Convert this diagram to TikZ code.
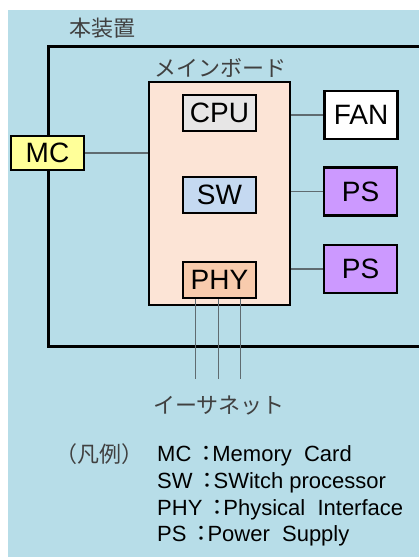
\documentclass[tikz,border=0pt]{standalone}
\usepackage{fontspec}
\setmainfont{Liberation Sans}
\newfontfamily\jpfont{Noto Sans CJK JP}
\usetikzlibrary{positioning}
\definecolor{cbg}{HTML}{B7DDE8}
\definecolor{cboard}{HTML}{FCE4D6}
\definecolor{ccpu}{HTML}{E7E6E6}
\definecolor{csw}{HTML}{C5D9F1}
\definecolor{cphy}{HTML}{F8CBAD}
\definecolor{cmc}{HTML}{FFFF99}
\definecolor{cps}{HTML}{CC99FF}
\definecolor{cjp}{HTML}{404040}
\definecolor{clink}{HTML}{5F6B70}
\tikzset{
  devbox/.style={rectangle, draw=black, line width=2.6pt, inner sep=0pt},
  board/.style={rectangle, draw=black, line width=2.6pt, fill=cboard, inner sep=0pt,
    minimum width=141pt, minimum height=223pt},
  chip/.style={rectangle, draw=black, line width=2.2pt, inner sep=0pt,
    minimum width=73pt, minimum height=36pt, font=\fontsize{28}{30}\selectfont},
  unit/.style={chip, line width=2.6pt, minimum height=48pt},
  jp/.style={inner sep=0pt, text=cjp, font=\jpfont\fontsize{22}{24}\selectfont},
  legend/.style={inner sep=0pt, font=\fontsize{22}{24}\selectfont},
  link/.style={draw=clink, line width=1.6pt},
}

\begin{document}
\begin{tikzpicture}[x=1pt, y=-1pt, node distance=13pt]
  \useasboundingbox (0,0) rectangle (419,557);
  \clip (0,0) rectangle (419,557);
  \fill[cbg] (8,10) rectangle (419,557);

  \node[devbox, anchor=north west, minimum width=400pt, minimum height=300pt] (dev) at (47,45) {};
  \node[jp, anchor=base west] (devlbl) at (69,36.5) {本装置};

  \node[board] (board) at (219.5,193.5) {};
  \node[jp, anchor=base] (boardlbl) at (220,76) {メインボード};
  \node[chip, fill=ccpu, below=13pt of board.north] (cpu) {CPU};
  \node[chip, fill=csw, below=44pt of cpu] (sw) {SW};
  \node[chip, fill=cphy, below=47pt of sw] (phy) {PHY};

  \node[unit, fill=white] (fan) at (361,115) {FAN};
  \node[unit, fill=cps] (ps1) at (360.5,191.5) {PS};
  \node[unit, fill=cps] (ps2) at (360.5,269) {PS};
  \node[unit, fill=cmc, minimum height=34pt] (mc) at (47.5,153) {MC};

  \draw[link] (mc.east) -- (mc.east -| board.west);
  \draw[link] (board.east |- fan) -- (fan);
  \draw[link] (board.east |- ps1) -- (ps1);
  \draw[link] (board.east |- ps2) -- (ps2);

  % ethernet ports
  \coordinate (ethend) at (219,379);
  \foreach \dx in {-24,-1,21}
    \draw[link] ([xshift=\dx pt]phy.south) -- ([xshift=\dx pt]phy.south |- ethend);
  \node[jp, anchor=base] (ethlbl) at (219,413) {イーサネット};

  % legend
  \node[jp, anchor=base west] (leghead) at (55,462) {（凡例）};
  \foreach \abbr/\desc [count=\i] in {MC/Memory~~Card, SW/SWitch processor,
      PHY/Physical~~Interface, PS/Power~~Supply}
    \node[legend, anchor=base west] (leg\i) at (157,435+26.7*\i)
      {\abbr\hspace{4pt}{\jpfont ：}\hspace{-5pt}\desc};
\end{tikzpicture}
\end{document}
